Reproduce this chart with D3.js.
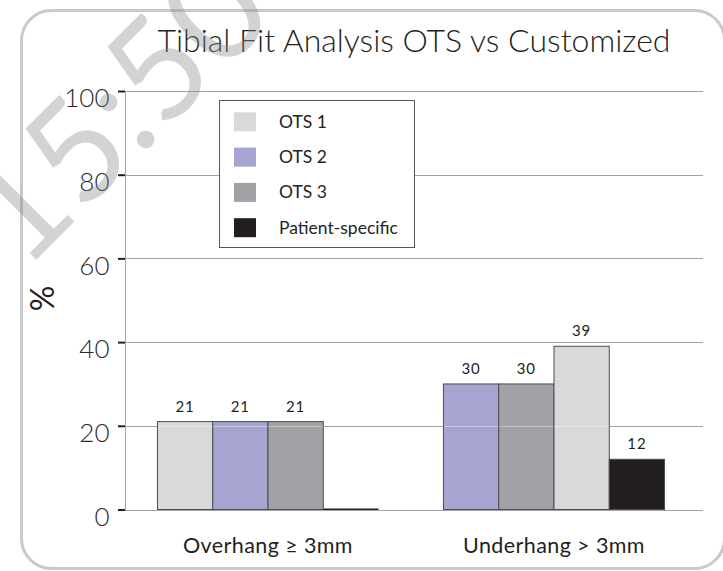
<!DOCTYPE html>
<html>
<head>
<meta charset="utf-8">
<script src="https://cdn.jsdelivr.net/npm/d3@7"></script>
<style>
  html, body { margin: 0; padding: 0; background: #fff; }
  svg { display: block; }
  text { font-family: Lato, "Noto Sans", sans-serif; }
</style>
</head>
<body>
<script>
// ---- data ----
const categories = ["Overhang \u2265 3mm", "Underhang > 3mm"];
const seriesNames = ["OTS 1", "OTS 2", "OTS 3", "Patient-specific"];
const ots1 = [21, 39];
const ots2 = [21, 30];
const ots3 = [21, 30];
const patientSpecific = [0, 12];
// order of bars inside each category group (as drawn in the original)
const barOrder = [
  ["OTS 1", "OTS 2", "OTS 3", "Patient-specific"],
  ["OTS 2", "OTS 3", "OTS 1", "Patient-specific"]
];
const yTicks = [0, 20, 40, 60, 80, 100];
const titleText = "Tibial Fit Analysis OTS vs Customized";
const yLabel = "%";
const watermarkText = "15:50";

// ---- styles ----
const colors = {
  "OTS 1": "#d8d9db",
  "OTS 2": "#a6a5d2",
  "OTS 3": "#a1a2a5",
  "Patient-specific": "#231f20"
};
const W = 723, H = 571;
const plot = { left: 125, right: 703, top: 91, bottom: 509.5 };

const seriesValues = { "OTS 1": ots1, "OTS 2": ots2, "OTS 3": ots3, "Patient-specific": patientSpecific };

const svg = d3.select("body").append("svg").attr("width", W).attr("height", H);

// frame
svg.append("rect")
  .attr("x", 21.5).attr("y", 10.5).attr("width", 703).attr("height", 558)
  .attr("rx", 30).attr("ry", 30)
  .attr("fill", "none").attr("stroke", "#c9c9c9").attr("stroke-width", 3);

// scales
const y = d3.scaleLinear().domain([0, 100]).range([plot.bottom, plot.top]);
const x0 = d3.scaleBand().domain(categories).range([plot.left, 697])
  .paddingInner(0.227).paddingOuter(0.1135);
const x1 = d3.scaleBand().domain(d3.range(4)).range([0, x0.bandwidth()]).padding(0);

// gridlines
svg.append("g").selectAll("line").data(yTicks).join("line")
  .attr("x1", plot.left).attr("x2", plot.right)
  .attr("y1", d => Math.round(y(d)) + 0.5).attr("y2", d => Math.round(y(d)) + 0.5)
  .attr("stroke", "#a3a3a3").attr("stroke-width", 1);

// y axis
const yAxis = svg.append("g").attr("transform", `translate(${plot.left},0)`)
  .call(d3.axisLeft(y).tickValues(yTicks).tickSize(7).tickPadding(8.5));
yAxis.select(".domain").attr("stroke", "#a3a3a3").attr("stroke-width", 1);
yAxis.selectAll(".tick line").attr("stroke", "#231f20").attr("stroke-width", 2);
yAxis.selectAll(".tick text")
  .attr("fill", "#2a2a2a").attr("font-size", 26).attr("font-weight", 300)
  .attr("dy", "0.6em")
  .style("font-family", "Lato, 'Noto Sans', sans-serif");

// bars
const barData = [];
categories.forEach((cat, ci) => {
  barOrder[ci].forEach((s, si) => {
    barData.push({ cat, slot: si, series: s, value: seriesValues[s][ci] });
  });
});

const bars = svg.append("g");
bars.selectAll("rect").data(barData).join("rect")
  .attr("x", d => x0(d.cat) + x1(d.slot))
  .attr("width", x1.bandwidth())
  .attr("y", d => d.value > 0 ? y(d.value) : y(0) - 1)
  .attr("height", d => d.value > 0 ? y(0) - y(d.value) : 1.5)
  .attr("fill", d => colors[d.series])
  .attr("stroke", d => d.value > 0 ? "#4d4d4d" : "none")
  .attr("stroke-width", 1);

// faint gridline seen through bars
const through = [];
barData.forEach(d => yTicks.forEach(t => { if (t > 0 && t < d.value) through.push({ d, t }); }));
bars.selectAll("line.through").data(through).join("line").attr("class", "through")
  .attr("x1", o => x0(o.d.cat) + x1(o.d.slot) + 0.5)
  .attr("x2", o => x0(o.d.cat) + x1(o.d.slot) + x1.bandwidth() - 0.5)
  .attr("y1", o => Math.round(y(o.t)) + 0.5).attr("y2", o => Math.round(y(o.t)) + 0.5)
  .attr("stroke", "#ffffff").attr("stroke-opacity", 0.35).attr("stroke-width", 1);

// value labels
svg.append("g").selectAll("text").data(barData.filter(d => d.value > 0)).join("text")
  .attr("x", d => x0(d.cat) + x1(d.slot) + x1.bandwidth() / 2)
  .attr("y", d => y(d.value) - 10)
  .attr("text-anchor", "middle")
  .attr("font-size", 15).attr("fill", "#231f20")
  .attr("letter-spacing", 1)
  .text(d => d.value);

// category labels
svg.append("g").selectAll("text").data(categories).join("text")
  .attr("x", d => x0(d) + x0.bandwidth() / 2)
  .attr("y", 552.5)
  .attr("text-anchor", "middle")
  .attr("font-size", 21.5).attr("fill", "#231f20")
  .attr("letter-spacing", 0.4)
  .text(d => d);

// y label
svg.append("text")
  .attr("transform", "translate(54,298.5) rotate(-90)")
  .attr("text-anchor", "middle")
  .attr("font-size", 32).attr("fill", "#231f20")
  .text(yLabel);

// title
svg.append("text")
  .attr("x", (plot.left + plot.right) / 2).attr("y", 52)
  .attr("text-anchor", "middle")
  .attr("font-size", 32).attr("font-weight", 300).attr("fill", "#231f20")
  .text(titleText);

// legend
const legend = svg.append("g");
legend.append("rect")
  .attr("x", 219.5).attr("y", 100.5).attr("width", 195).attr("height", 147)
  .attr("fill", "#fff").attr("stroke", "#555").attr("stroke-width", 1);
const li = legend.selectAll("g.item").data(seriesNames).join("g").attr("class", "item")
  .attr("transform", (d, i) => `translate(234,${112.3 + i * 35.3})`);
li.append("rect").attr("width", 22).attr("height", 19).attr("fill", d => colors[d]);
li.append("text").attr("x", 45).attr("y", 15.5)
  .attr("font-size", 17.5).attr("fill", "#231f20").text(d => d);

// watermark
svg.append("text")
  .attr("transform", "translate(24,272) rotate(-45)")
  .attr("font-size", 140).attr("font-weight", 400)
  .attr("fill", "#8c8c8c").attr("fill-opacity", 0.38)
  .text(watermarkText);
</script>
</body>
</html>
